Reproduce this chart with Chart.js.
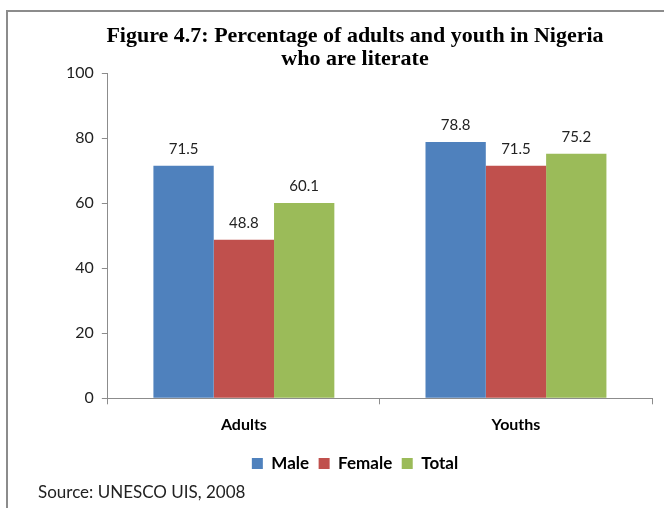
<!DOCTYPE html>
<html>
<head>
<meta charset="utf-8">
<script src="https://cdn.jsdelivr.net/npm/chart.js@4/dist/chart.umd.min.js"></script>
<style>
  html, body { margin: 0; padding: 0; background: #fff; }
  #wrap { position: relative; width: 664px; height: 508px; overflow: hidden; }
  #frame {
    position: absolute; left: 6px; top: 10px; width: 700px; height: 520px;
    border-top: 2px solid #8c8c8c; border-left: 2px solid #8c8c8c;
  }
  #source {
    position: absolute; left: 38px; top: 481px;
    font: 17px Lato, "Liberation Sans", sans-serif; color: #222;
  }
  canvas { position: absolute; left: 0; top: 0; }
</style>
</head>
<body>
<div id="wrap">
  <div id="frame"></div>
  <canvas id="chart" width="664" height="508"></canvas>
  <div id="source">Source: UNESCO UIS, 2008</div>
</div>
<script>
const categories = ['Adults', 'Youths'];
const maleValues = [71.5, 78.8];
const femaleValues = [48.8, 71.5];
const totalValues = [60.1, 75.2];
const yTicks = [0, 20, 40, 60, 80, 100];

const sansFont = 'Lato, "Liberation Sans", sans-serif';

// value labels drawn above each bar
const barLabels = {
    id: 'barLabels',
    afterDatasetsDraw(chart) {
        const ctx = chart.ctx;
        ctx.save();
        ctx.font = '15px ' + sansFont;
        ctx.fillStyle = '#222';
        ctx.textAlign = 'center';
        ctx.textBaseline = 'bottom';
        chart.data.datasets.forEach(function(ds, i) {
            chart.getDatasetMeta(i).data.forEach(function(bar, j) {
                ctx.fillText(ds.data[j].toFixed(1), bar.x, bar.y - 9);
            });
        });
        ctx.restore();
    }
};

new Chart(document.getElementById('chart'), {
    type: 'bar',
    data: {
        labels: categories,
        datasets: [
            { label: 'Male', data: maleValues, backgroundColor: '#4F81BD' },
            { label: 'Female', data: femaleValues, backgroundColor: '#C0504D' },
            { label: 'Total', data: totalValues, backgroundColor: '#9BBB59' }
        ]
    },
    options: {
        responsive: false,
        animation: false,
        datasets: {
            bar: { categoryPercentage: 0.665, barPercentage: 1.0 }
        },
        layout: { padding: { left: 58, right: 12, top: 25, bottom: 26 } },
        plugins: {
            title: {
                display: true,
                text: ['Figure 4.7: Percentage of adults and youth in Nigeria', 'who are literate'],
                font: { family: '"Liberation Serif", serif', size: 22, weight: 'bold', lineHeight: 1.05 },
                color: '#000',
                padding: { top: 0, bottom: 2 }
            },
            legend: {
                position: 'bottom',
                labels: {
                    boxWidth: 11, boxHeight: 11,
                    padding: 9.5,
                    color: '#000',
                    font: { family: sansFont, size: 17, weight: 'bold' }
                }
            },
            tooltip: { enabled: false }
        },
        scales: {
            x: {
                grid: { offset: true, drawOnChartArea: false, tickLength: 6, color: '#8c8c8c' },
                border: { color: '#8c8c8c' },
                ticks: { color: '#000', padding: 11, font: { family: sansFont, size: 16, weight: 'bold' } }
            },
            y: {
                min: 0, max: 100,
                afterBuildTicks: function(axis) {
                    axis.ticks = yTicks.map(v => ({ value: v }));
                },
                grid: { drawOnChartArea: false, tickLength: 6, color: '#8c8c8c' },
                border: { color: '#8c8c8c' },
                ticks: { color: '#222', padding: 8, font: { family: sansFont, size: 16 } }
            }
        }
    },
    plugins: [barLabels]
});
</script>
</body>
</html>
